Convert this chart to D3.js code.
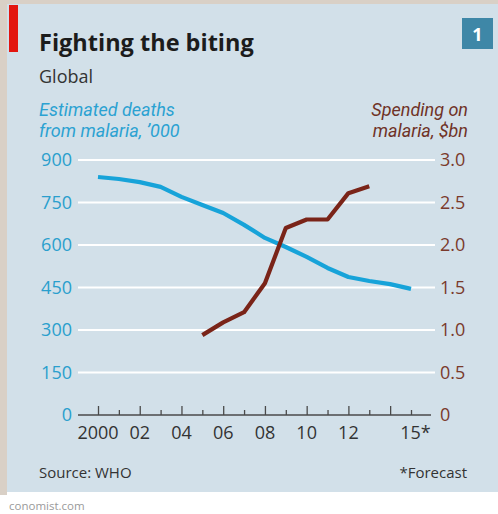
<!DOCTYPE html>
<html>
<head>
<meta charset="utf-8">
<script src="https://cdn.jsdelivr.net/npm/d3@7"></script>
<style>
  html, body { margin: 0; padding: 0; background: #ffffff; }
  svg { display: block; font-family: "Open Sans", sans-serif; }
</style>
</head>
<body>
<svg id="chart" width="498" height="514"></svg>
<script>
// ---- Data ----
const deathYears = [2000,2001,2002,2003,2004,2005,2006,2007,2008,2009,2010,2011,2012,2013,2014,2015];
const deaths = [840,833,822,805,770,741,713,671,625,593,558,519,487,473,462,445];
const spendYears = [2005,2006,2007,2008,2009,2010,2011,2012,2013];
const spending = [0.94,1.09,1.21,1.55,2.20,2.30,2.30,2.61,2.69];
const leftTicks = [0,150,300,450,600,750,900];
const rightTicks = [0,0.5,1.0,1.5,2.0,2.5,3.0];
const majorYears = [2000,2002,2004,2006,2008,2010,2012,2014];
const minorYears = [2001,2003,2005,2007,2009,2011,2013,2015];
const labelYears = [2000,2002,2004,2006,2008,2010,2012,2015];
const yearLabels = ["2000","02","04","06","08","10","12","15*"];

const svg = d3.select("#chart");

// ---- Frame ----
svg.append("rect").attr("x",0).attr("y",0).attr("width",498).attr("height",4).attr("fill","#d9d0c6");
svg.append("rect").attr("x",0).attr("y",0).attr("width",7).attr("height",495).attr("fill","#d9d0c6");
svg.append("rect").attr("x",7).attr("y",4).attr("width",491).attr("height",488).attr("fill","#d2e0e9");
svg.append("rect").attr("x",9).attr("y",5).attr("width",9).attr("height",47).attr("fill","#e3160f");
svg.append("rect").attr("x",462).attr("y",18).attr("width",31).attr("height",31).attr("fill","#3e87a7");
svg.append("text").attr("x",477.5).attr("y",40.5).attr("text-anchor","middle")
  .attr("font-size",18).attr("font-weight","bold").attr("fill","#ffffff").text("1");

// ---- Titles ----
svg.append("text").attr("x",39).attr("y",51).attr("font-size",23.5).attr("font-weight","bold")
  .attr("fill","#1c1c1c").text("Fighting the biting");
svg.append("text").attr("x",39).attr("y",83).attr("font-size",18).attr("fill","#333333").text("Global");

const blueTxt = "#2ba2d2", brownTxt = "#6f3226";
const legendFont = "Roboto, 'Open Sans', sans-serif";
svg.append("text").attr("x",39).attr("y",115.5).attr("font-size",18).attr("font-style","italic")
  .attr("font-family",legendFont).attr("fill",blueTxt).text("Estimated deaths");
svg.append("text").attr("x",39).attr("y",137).attr("font-size",18).attr("font-style","italic")
  .attr("font-family",legendFont).attr("fill",blueTxt).text("from malaria, \u2019000");
svg.append("text").attr("x",468).attr("y",115.5).attr("font-size",18).attr("font-style","italic")
  .attr("font-family",legendFont).attr("text-anchor","end").attr("fill",brownTxt).text("Spending on");
svg.append("text").attr("x",468).attr("y",137).attr("font-size",18).attr("font-style","italic")
  .attr("font-family",legendFont).attr("text-anchor","end").attr("fill",brownTxt).text("malaria, $bn");

// ---- Scales ----
const x = d3.scaleLinear().domain([2000,2015]).range([98,411]);
const yL = d3.scaleLinear().domain([0,900]).range([415,160]);
const yR = d3.scaleLinear().domain([0,3]).range([415,160]);
const gridX0 = 78, gridX1 = 435;

// gridlines
svg.append("g").selectAll("line").data(leftTicks.filter(d => d > 0)).join("line")
  .attr("x1",gridX0).attr("x2",gridX1).attr("y1",d => yL(d)).attr("y2",d => yL(d))
  .attr("stroke","#ffffff").attr("stroke-width",2);

// left labels
svg.append("g").selectAll("text").data(leftTicks).join("text")
  .attr("x",72).attr("y",d => yL(d)).attr("dy","0.36em").attr("text-anchor","end")
  .attr("font-size",18).attr("fill","#2a9fcd").text(d => d);
// right labels
svg.append("g").selectAll("text").data(rightTicks).join("text")
  .attr("x",440).attr("y",d => yR(d)).attr("dy","0.36em").attr("text-anchor","start")
  .attr("font-size",18).attr("fill","#7a3a2c").text(d => d === 0 ? "0" : d3.format(".1f")(d));

// x axis ticks (upwards)
const axisG = svg.append("g").attr("transform","translate(0,415)");
axisG.append("g").call(d3.axisTop(x).tickValues(majorYears).tickSize(9).tickFormat(""))
  .call(g => g.select(".domain").remove())
  .call(g => g.selectAll("line").attr("stroke","#4a4a4a").attr("stroke-width",1.3));
axisG.append("g").call(d3.axisTop(x).tickValues(minorYears).tickSize(5).tickFormat(""))
  .call(g => g.select(".domain").remove())
  .call(g => g.selectAll("line").attr("stroke","#4a4a4a").attr("stroke-width",1.3));
axisG.append("line").attr("x1",gridX0).attr("x2",431).attr("y1",0).attr("y2",0)
  .attr("stroke","#4a4a4a").attr("stroke-width",1.5);

// year labels
svg.append("g").selectAll("text").data(labelYears).join("text")
  .attr("x",d => x(d)).attr("dx",(d,i) => yearLabels[i].endsWith("*") ? 4.5 : 0)
  .attr("y",439).attr("text-anchor","middle").attr("font-size",18).attr("fill","#333333")
  .text((d,i) => yearLabels[i]);

// ---- Lines ----
const lineL = d3.line().x((d,i) => x(deathYears[i])).y(d => yL(d));
const lineR = d3.line().x((d,i) => x(spendYears[i])).y(d => yR(d));
svg.append("path").datum(deaths).attr("d",lineL).attr("fill","none")
  .attr("stroke","#17a3d9").attr("stroke-width",4.2).attr("stroke-linejoin","round");
svg.append("path").datum(spending).attr("d",lineR).attr("fill","none")
  .attr("stroke","#7a2418").attr("stroke-width",4.2).attr("stroke-linejoin","round");

// ---- Footer ----
svg.append("text").attr("x",39).attr("y",478).attr("font-size",15).attr("fill","#333333").text("Source: WHO");
svg.append("text").attr("x",467).attr("y",478).attr("font-size",15).attr("text-anchor","end")
  .attr("fill","#333333").text("*Forecast");
svg.append("text").attr("x",9).attr("y",510).attr("font-size",11.5).attr("fill","#9a9a9a").text("conomist.com");
</script>
</body>
</html>
